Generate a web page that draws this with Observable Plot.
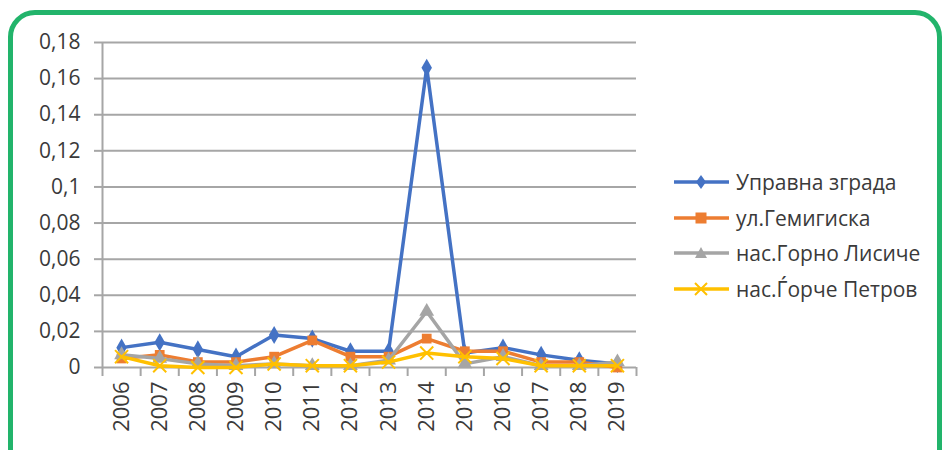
<!DOCTYPE html>
<html><head><meta charset="utf-8">
<script src="https://cdn.jsdelivr.net/npm/d3@7"></script>
<script src="https://cdn.jsdelivr.net/npm/@observablehq/plot@0.6"></script>
<style>
body{margin:0;background:#fff;}
#wrap{position:relative;width:942px;height:450px;overflow:hidden;font-family:"Open Sans",Roboto,sans-serif;}
#frame{position:absolute;left:8px;top:10px;width:934px;height:470px;border:5px solid #22b46b;border-radius:27px;box-sizing:border-box;pointer-events:none;}
#legend{position:absolute;left:673px;top:164px;}
.row{display:flex;align-items:center;height:35.7px;font-size:21px;color:#3a3a3a;white-space:nowrap;}
.row svg{margin-right:5px;}
</style></head>
<body><div id="wrap"><div id="chart"></div><div id="legend"></div><div id="frame"></div></div>
<script>
const years = [2006,2007,2008,2009,2010,2011,2012,2013,2014,2015,2016,2017,2018,2019];
const seriesNames = ["Управна зграда","ул.Гемигиска","нас.Горно Лисиче","нас.Ѓорче Петров"];
const upravna  = [0.011,0.014,0.010,0.006,0.018,0.016,0.009,0.009,0.166,0.008,0.011,0.007,0.004,0.002];
const gemigiska= [0.005,0.007,0.003,0.003,0.006,0.015,0.006,0.006,0.016,0.009,0.009,0.003,0.003,0.000];
const lisice   = [0.007,0.005,0.002,0.001,0.002,0.001,0.001,0.004,0.031,0.002,0.006,0.001,0.001,0.003];
const gjorce   = [0.006,0.001,0.000,0.000,0.002,0.001,0.001,0.003,0.008,0.006,0.005,0.001,0.001,0.001];
const yTicks = [0,0.02,0.04,0.06,0.08,0.1,0.12,0.14,0.16,0.18];
const yTickLabels = ["0","0,02","0,04","0,06","0,08","0,1","0,12","0,14","0,16","0,18"];
const colors = ["#4472C4","#ED7D31","#A5A5A5","#FFC000"];
const symbols = ["diamond","square","triangle","times"];

const valuesList = [upravna, gemigiska, lisice, gjorce];
const data = seriesNames.flatMap((s,i)=>years.map((yr,j)=>({year:yr,value:valuesList[i][j],series:s})));
const bounds = years.map(y=>y-0.5).concat([years[years.length-1]+0.5]);

const seriesMarks = seriesNames.flatMap((s,i)=>{
  const d = data.filter(r=>r.series===s);
  const isStroke = symbols[i]==="times";
  return [
    Plot.line(d,{x:"year",y:"value",stroke:colors[i],strokeWidth:3.5}),
    Plot.dot(d,{x:"year",y:"value",symbol:symbols[i],r:isStroke?6:5.5,
      fill:isStroke?"none":colors[i],stroke:isStroke?colors[i]:"none",strokeWidth:isStroke?2:0})
  ];
});

const chart = Plot.plot({
  width:942,height:450,
  marginLeft:102,marginRight:306,marginTop:42,marginBottom:83,
  style:{fontFamily:"'Open Sans', Roboto, sans-serif",color:"#3a3a3a",background:"transparent"},
  x:{domain:[2005.5,2019.5]},
  y:{domain:[0,0.18]},
  marks:[
    Plot.ruleY(yTicks.slice(1),{stroke:"#a6a6a6",strokeWidth:2}),
    Plot.axisY({ticks:yTicks,tickFormat:d=>yTickLabels[yTicks.indexOf(d)],tickSize:8,tickPadding:14,fontSize:21,stroke:"#a6a6a6",strokeWidth:2,label:null}),
    Plot.axisX({ticks:bounds,tickFormat:()=>"",tickSize:9,stroke:"#a6a6a6",strokeWidth:2,label:null}),
    Plot.axisX({ticks:years,tickFormat:d=>String(d),tickSize:0,tickPadding:14,tickRotate:-90,fontSize:22,label:null}),
    Plot.ruleY([0],{stroke:"#a6a6a6",strokeWidth:2}),
    Plot.ruleX([2005.5],{stroke:"#a6a6a6",strokeWidth:2}),
    ...seriesMarks
  ]
});
document.getElementById("chart").appendChild(chart);

const legend = document.getElementById("legend");
const symPaths = {
  diamond: '<path d="M28,3 L33,10 L28,17 L23,10 Z" fill="COL"/>',
  square: '<rect x="22.5" y="4.5" width="11" height="11" fill="COL"/>',
  triangle: '<path d="M28,4 L34,15 L22,15 Z" fill="COL"/>',
  times: '<path d="M22,4 L34,16 M34,4 L22,16" stroke="COL" stroke-width="2" fill="none"/>'
};
seriesNames.forEach((s,i)=>{
  const row = document.createElement("div");
  row.className="row";
  row.innerHTML = `<svg width="58" height="20"><line x1="1" x2="56" y1="10" y2="10" stroke="${colors[i]}" stroke-width="3.5"/>${symPaths[symbols[i]].replace(/COL/g,colors[i])}</svg><span>${s}</span>`;
  legend.appendChild(row);
});
</script>
</body></html>
